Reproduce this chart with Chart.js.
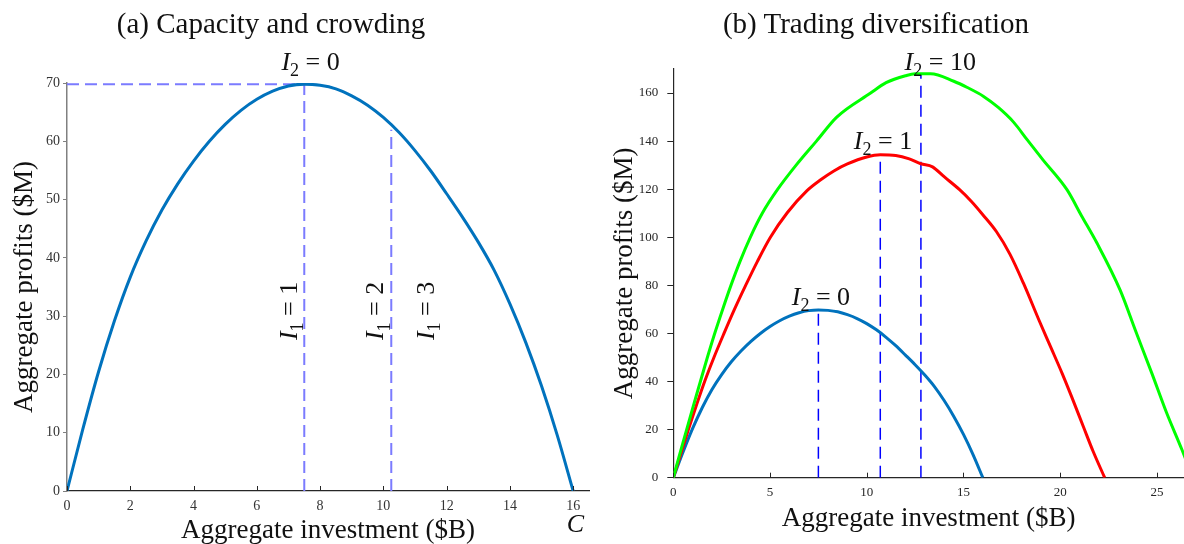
<!DOCTYPE html>
<html><head><meta charset="utf-8">
<script src="https://cdn.jsdelivr.net/npm/chart.js@4.4.1/dist/chart.umd.min.js"></script>
<style>
html,body{margin:0;padding:0;background:#fff;width:1184px;height:544px;overflow:hidden;}
#cA{position:absolute;left:0;top:0;}
#cB{position:absolute;left:600px;top:0;}
.ttl{position:absolute;top:9px;font-family:"Liberation Serif",serif;font-size:29px;line-height:29px;color:#111;white-space:nowrap;transform:translateX(-50%);}
</style></head>
<body>
<canvas id="cA" width="600" height="544"></canvas>
<canvas id="cB" width="584" height="544"></canvas>
<div class="ttl" style="left:271px">(a) Capacity and crowding</div>
<div class="ttl" style="left:876px">(b) Trading diversification</div>
<script>
// ---------- data ----------
const blueX = [0, 0.5, 1, 1.5, 2, 2.5, 3, 3.5, 4, 4.5, 5, 5.5, 6, 6.5, 7, 7.5, 8, 8.5, 9, 9.5, 10, 10.5, 11, 11.5, 12, 12.5, 13, 13.5, 14, 14.5, 15, 15.5, 16];
const blueY = [0, 10.6, 20.5, 29.2, 36.7, 42.9, 48.2, 52.7, 56.6, 60.0, 62.9, 65.3, 67.2, 68.6, 69.5, 69.8, 69.6, 69.0, 67.8, 66.2, 64.1, 61.5, 58.4, 54.9, 51.0, 47.0, 42.7, 37.9, 32.1, 25.5, 18.0, 9.5, 0];

const redX = [0, 0.39, 0.78, 1.19, 1.62, 2.1, 2.62, 3.16, 3.74, 4.35, 5.02, 5.9, 6.9, 7.6, 8.3, 9.0, 10.0, 10.7, 11.5, 12.2, 12.8, 13.4, 14.0, 14.8, 15.4, 16.0, 16.7, 17.4, 18.1, 18.9, 19.5, 20.1, 20.6, 21.2, 21.7, 22.3];
const redY = [0, 10, 20, 30, 40, 50, 60, 70, 80, 90, 100, 110.3, 119.3, 123.8, 127.6, 130.5, 133.4, 134.3, 134.0, 132.6, 130.6, 129.3, 125.2, 119.8, 115, 109.4, 102.4, 93, 80.9, 65.6, 54.5, 43.4, 33.5, 21.2, 11, 0];

const greenX = [0, 0.34, 0.69, 1.04, 1.40, 1.76, 2.14, 2.55, 2.98, 3.45, 3.98, 4.6, 5.4, 6.35, 7.4, 8.45, 10.2, 11.0, 12.0, 12.5, 13.3, 14.5, 15.2, 16.04, 16.8, 17.6, 18.3, 19.1, 20.35, 21.1, 21.9, 23.1, 23.9, 24.74, 25.5, 26.3, 26.85];
const greenY = [0, 10, 20, 30, 40, 50, 60, 70, 80, 90, 100, 110, 120, 130, 140, 150, 160, 164.3, 167.2, 168, 168, 164.9, 162.3, 158.6, 154, 147.8, 140.5, 132.3, 119.8, 109, 97.6, 78, 61, 43.4, 27, 11.5, 0];

// optimum (peak) markers
const peakX = [7.5, 10.7, 12.8];          // I2 = 0, 1, 10
const peakY = [69.8, 134.3, 168];
const capLineX = [7.5, 10.25];             // I1 = 1, I1 = 2 markers (panel a)
const capLineTop = [69.8, 62];

// tick labels
const xTicksA = [0, 2, 4, 6, 8, 10, 12, 14, 16];
const yTicksA = [0, 10, 20, 30, 40, 50, 60, 70];
const xTicksB = [0, 5, 10, 15, 20, 25];
const yTicksB = [0, 20, 40, 60, 80, 100, 120, 140, 160];

// ---------- helpers ----------
const SERIF = '"Liberation Serif", "Times New Roman", serif';
const pts = (xs, ys) => xs.map((v, i) => ({x: v, y: ys[i]}));
const curve = (label, xs, ys, color) => ({label, data: pts(xs, ys), borderColor: color, borderWidth: 3,
  pointRadius: 0, fill: false, cubicInterpolationMode: 'monotone', order: 0});
const dashed = (data, color, width, dash) => ({label: '', data, borderColor: color, borderWidth: width,
  borderDash: dash, pointRadius: 0, fill: false, tension: 0, order: 1});

function drawRuns(ctx, runs, x, y, size, rot) {
  const fontFor = r => (r.it ? 'italic ' : '') + (r.sub ? Math.round(size * 0.7) : size) + 'px ' + SERIF;
  ctx.save();
  let w = 0;
  const widths = runs.map(r => { ctx.font = fontFor(r); const m = ctx.measureText(r.t).width; w += m; return m; });
  ctx.translate(x, y);
  ctx.rotate(rot || 0);
  ctx.textBaseline = 'alphabetic'; ctx.textAlign = 'left'; ctx.fillStyle = '#111';
  let cx = -w / 2;
  runs.forEach((r, i) => { ctx.font = fontFor(r); ctx.fillText(r.t, cx, r.sub ? size * 0.24 : 0); cx += widths[i]; });
  ctx.restore();
}
const eq = (sub, rhs) => [{t: 'I', it: true}, {t: sub, sub: true}, {t: ' = ' + rhs}];

const notesPlugin = notes => ({
  id: 'notes',
  afterDatasetsDraw(chart) {
    const {ctx, scales: {x, y}} = chart;
    notes.forEach(n => drawRuns(ctx, n.runs, x.getPixelForValue(n.x), y.getPixelForValue(n.y), n.size, n.rot));
  }
});
const inTicksPlugin = (len, color) => ({
  id: 'inTicks',
  afterDraw(chart) {
    const {ctx, scales: {x}} = chart;
    ctx.save(); ctx.strokeStyle = color; ctx.lineWidth = 1;
    x.ticks.forEach(t => {
      const px = Math.round(x.getPixelForValue(t.value)) + 0.5;
      ctx.beginPath(); ctx.moveTo(px, x.top); ctx.lineTo(px, x.top - len); ctx.stroke();
    });
    ctx.restore();
  }
});
const setTicks = arr => s => { s.ticks = arr.map(v => ({value: v})); };

Chart.defaults.animation = false;
Chart.defaults.font.family = SERIF;

// ---------- panel (a) ----------
const capDash = [];
capDash.push(dashed([{x: 0, y: capLineTop[0]}, {x: capLineX[0], y: capLineTop[0]}], '#7b7bff', 2, [12, 6]));
capLineX.forEach((v, i) => capDash.push(dashed([{x: v, y: 0}, {x: v, y: capLineTop[i]}], '#7b7bff', 2, [12, 6])));

new Chart(document.getElementById('cA'), {
  type: 'line',
  data: {datasets: [curve('I2 = 0', blueX, blueY, '#0072BD'), ...capDash]},
  options: {
    responsive: false, events: [],
    layout: {padding: {top: 83, right: 11, bottom: 0, left: 0}},
    plugins: {legend: {display: false}, tooltip: {enabled: false}},
    scales: {
      x: {type: 'linear', min: 0, max: 16.5, afterBuildTicks: setTicks(xTicksA), afterFit: s => { s.height = 53; },
        grid: {drawOnChartArea: false, drawTicks: false}, border: {color: '#262626', width: 1.2},
        ticks: {padding: 7, font: {family: SERIF, size: 14}, color: '#333', maxRotation: 0, autoSkip: false},
        title: {display: true, text: 'Aggregate investment ($B)', color: '#111',
          font: {family: SERIF, size: 27, lineHeight: 1}, padding: {top: 0, bottom: 0}}},
      y: {type: 'linear', min: 0, max: 70, afterBuildTicks: setTicks(yTicksA), afterFit: s => { s.width = 67; },
        grid: {drawOnChartArea: false, drawTicks: true, tickLength: 4, color: '#808080'}, border: {color: '#808080', width: 1.5},
        ticks: {padding: 3, font: {family: SERIF, size: 14}, color: '#333'},
        title: {display: true, text: 'Aggregate profits ($M)', color: '#111',
          font: {family: SERIF, size: 27, lineHeight: 1}, padding: {top: 11.5, bottom: 0}}}
    }
  },
  plugins: [inTicksPlugin(5, '#262626'), notesPlugin([
    {runs: eq('2', '0'), x: 7.7, y: 72.3, size: 26},
    {runs: eq('1', '1'), x: 7.27, y: 30.9, size: 26, rot: -Math.PI / 2},
    {runs: eq('1', '2'), x: 10.0, y: 30.9, size: 26, rot: -Math.PI / 2},
    {runs: eq('1', '3'), x: 11.6, y: 30.9, size: 26, rot: -Math.PI / 2},
    {runs: [{t: 'C', it: true}], x: 16.07, y: -7.0, size: 26}
  ])]
});

// ---------- panel (b) ----------
const peakDash = peakX.map((v, i) => dashed([{x: v, y: 0}, {x: v, y: peakY[i]}], '#0000ff', 1.5, [12, 7]));

new Chart(document.getElementById('cB'), {
  type: 'line',
  data: {datasets: [
    curve('I2 = 10', greenX, greenY, '#00ff00'),
    curve('I2 = 1', redX, redY, '#ff0000'),
    curve('I2 = 0', blueX, blueY, '#0072BD'),
    ...peakDash]},
  options: {
    responsive: false, events: [],
    layout: {padding: {top: 69, right: 0, bottom: 11.5, left: 0}},
    plugins: {legend: {display: false}, tooltip: {enabled: false}},
    scales: {
      x: {type: 'linear', min: 0, max: 26.4, afterBuildTicks: setTicks(xTicksB), afterFit: s => { s.height = 54.8; },
        grid: {drawOnChartArea: false, drawTicks: false}, border: {color: '#262626', width: 1.2},
        ticks: {padding: 7.5, font: {family: SERIF, size: 13}, color: '#262626', maxRotation: 0, autoSkip: false},
        title: {display: true, text: 'Aggregate investment ($B)', color: '#111',
          font: {family: SERIF, size: 27, lineHeight: 1}, padding: {top: 0, bottom: 0}}},
      y: {type: 'linear', min: 0, max: 170, afterBuildTicks: setTicks(yTicksB), afterFit: s => { s.width = 73.3; },
        grid: {drawOnChartArea: false, drawTicks: true, tickLength: 6, color: '#262626'}, border: {color: '#262626', width: 1.2},
        ticks: {padding: 9, font: {family: SERIF, size: 13}, color: '#262626'},
        title: {display: true, text: 'Aggregate profits ($M)', color: '#111',
          font: {family: SERIF, size: 27, lineHeight: 1}, padding: {top: 11.5, bottom: 0}}}
    }
  },
  plugins: [inTicksPlugin(5, '#262626'), notesPlugin([
    {runs: eq('2', '10'), x: 13.8, y: 169.6, size: 26},
    {runs: eq('2', '1'), x: 10.84, y: 136.7, size: 26},
    {runs: eq('2', '0'), x: 7.63, y: 71.8, size: 26}
  ])]
});
</script>
</body></html>
